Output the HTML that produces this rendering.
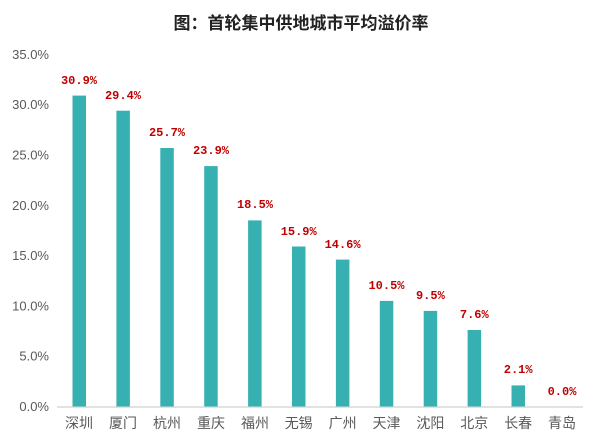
<!DOCTYPE html>
<html><head><meta charset="utf-8"><style>
html,body{margin:0;padding:0;background:#fff;}
svg{display:block;}
</style></head><body>
<svg width="600" height="443" xmlns="http://www.w3.org/2000/svg" font-family="'Liberation Sans','Noto Sans CJK SC',sans-serif">
<text x="301" y="29" text-anchor="middle" font-size="17" font-weight="bold" fill="#222">图：首轮集中供地城市平均溢价率</text>
<g font-size="13" fill="#595959" text-anchor="end">
<text x="49" y="411">0.0%</text>
<text x="49" y="360.7">5.0%</text>
<text x="49" y="310.4">10.0%</text>
<text x="49" y="260.1">15.0%</text>
<text x="49" y="209.8">20.0%</text>
<text x="49" y="159.5">25.0%</text>
<text x="49" y="109.2">30.0%</text>
<text x="49" y="58.9">35.0%</text>
</g>
<line x1="57" y1="407" x2="583" y2="407" stroke="#d9d9d9" stroke-width="1.5"/>
<g fill="#37b0b1">
<rect x="72.5" y="95.6" width="13.5" height="310.9"/>
<rect x="116.4" y="110.7" width="13.5" height="295.8"/>
<rect x="160.3" y="148" width="13.5" height="258.5"/>
<rect x="204.2" y="166.1" width="13.5" height="240.4"/>
<rect x="248.1" y="220.4" width="13.5" height="186.1"/>
<rect x="292" y="246.5" width="13.5" height="160"/>
<rect x="335.9" y="259.6" width="13.5" height="146.9"/>
<rect x="379.8" y="300.9" width="13.5" height="105.6"/>
<rect x="423.7" y="310.9" width="13.5" height="95.6"/>
<rect x="467.6" y="330" width="13.5" height="76.5"/>
<rect x="511.5" y="385.4" width="13.5" height="21.1"/>
</g>
<g font-size="12" font-weight="bold" fill="#c00000" text-anchor="middle" font-family="'Liberation Mono','Noto Sans CJK SC',monospace">
<text x="79" y="84">30.9%</text>
<text x="123" y="99">29.4%</text>
<text x="167" y="136">25.7%</text>
<text x="211" y="154">23.9%</text>
<text x="255" y="208">18.5%</text>
<text x="298.7" y="235">15.9%</text>
<text x="342.6" y="248">14.6%</text>
<text x="386.5" y="289">10.5%</text>
<text x="430.4" y="299">9.5%</text>
<text x="474.3" y="318">7.6%</text>
<text x="518.2" y="373">2.1%</text>
<text x="562" y="395">0.0%</text>
</g>
<g font-size="14" fill="#595959" text-anchor="middle">
<text x="79" y="428">深圳</text>
<text x="123" y="428">厦门</text>
<text x="167" y="428">杭州</text>
<text x="211" y="428">重庆</text>
<text x="255" y="428">福州</text>
<text x="298.7" y="428">无锡</text>
<text x="342.6" y="428">广州</text>
<text x="386.5" y="428">天津</text>
<text x="430.4" y="428">沈阳</text>
<text x="474.3" y="428">北京</text>
<text x="518.2" y="428">长春</text>
<text x="562" y="428">青岛</text>
</g>
</svg>
</body></html>
